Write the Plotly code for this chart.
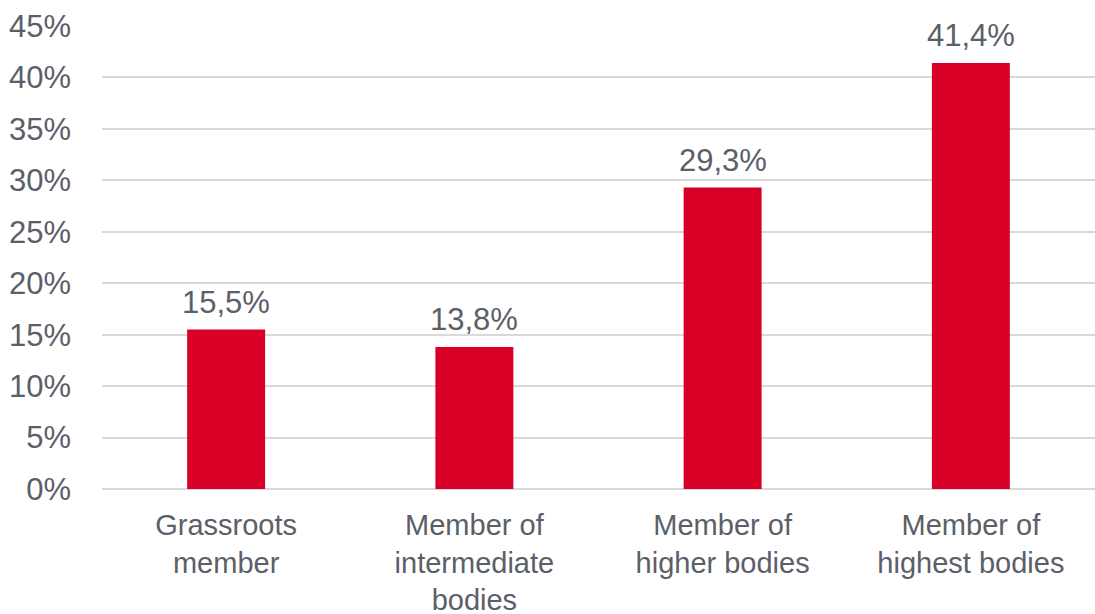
import plotly.graph_objects as go

categories = ["Grassroots<br>member", "Member of<br>intermediate<br>bodies",
              "Member of<br>higher bodies", "Member of<br>highest bodies"]
values = [15.5, 13.8, 29.3, 41.4]
value_labels = ["15,5%", "13,8%", "29,3%", "41,4%"]
y_ticks = [0, 5, 10, 15, 20, 25, 30, 35, 40, 45]
y_tick_labels = [f"{v}%" for v in y_ticks]

TEXT = "#5b6068"
RED = "#D80027"
GRID = "#d9d9d9"
FONT = "Liberation Sans, Arial, sans-serif"

fig = go.Figure()
fig.add_trace(go.Bar(x=categories, y=values, marker=dict(color=RED, line=dict(width=0)),
                     hoverinfo="skip"))

for c, v, t in zip(categories, values, value_labels):
    fig.add_annotation(x=c, y=v, text=t, showarrow=False, yanchor="bottom",
                       yshift=8, font=dict(family=FONT, size=31, color=TEXT))

fig.update_layout(
    width=1095, height=614,
    margin=dict(l=102, r=0, t=26, b=125),
    paper_bgcolor="white", plot_bgcolor="white",
    bargap=0.686,
    showlegend=False,
    font=dict(family=FONT, color=TEXT),
)
fig.update_xaxes(showgrid=False, showline=False, zeroline=False, automargin=False,
                 tickfont=dict(family=FONT, size=29, color=TEXT),
                 ticks="", ticklabelstandoff=16)
fig.update_yaxes(range=[0, 45], tickvals=y_ticks, ticktext=y_tick_labels,
                 automargin=False,
                 showgrid=True, gridcolor=GRID, gridwidth=1.5,
                 zeroline=True, zerolinecolor=GRID, zerolinewidth=1.5,
                 showline=False, ticks="", ticklabelstandoff=30,
                 tickfont=dict(family=FONT, size=31, color=TEXT))

fig.write_html("out.html", config={"displayModeBar": False},
               post_script="document.body.style.margin='0';document.body.style.overflow='hidden';")
